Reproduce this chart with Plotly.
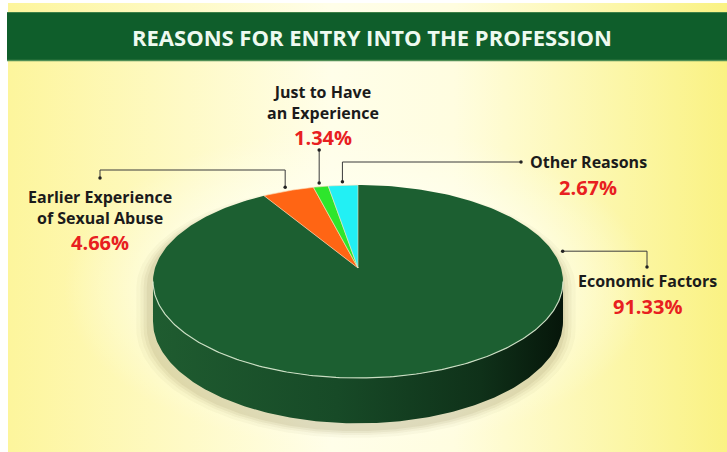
import numpy as np
import plotly.graph_objects as go

# ---- data -----------------------------------------------------------------
categories = ["Economic Factors", "Earlier Experience of Sexual Abuse",
              "Just to Have an Experience", "Other Reasons"]
label_lines = ["Economic Factors", "Earlier Experience<br>of Sexual Abuse",
               "Just to Have<br>an Experience", "Other Reasons"]
shares = [91.33, 4.66, 1.34, 2.67]
slice_colors = ["#1c5f31", "#ff6514", "#2ee62c", "#22f0f4"]

title_text = "REASONS FOR ENTRY INTO THE PROFESSION"

# ---- canvas / pie geometry --------------------------------------------------
W, H = 727, 452
CX, CY = 358, 268          # apex of the top face
RX, RY = 203, 94.6         # horizontal / vertical radii of the tilted disc
P = 0.14                   # perspective strength
DEPTH = 39                 # thickness of the disc

DARK = "#1b1b1b"
RED = "#e8201f"
FONT = "Open Sans"


def project(phi, drop=0.0, scale=1.0):
    """Map an angle (clockwise from 12 o'clock) on the disc to screen coords."""
    u = scale * np.sin(phi)
    v = scale * np.cos(phi)
    s = 1 + P * v
    return CX + RX * u / s, CY - RY * v / s + drop / s


fig = go.Figure()

# background: white page with a yellow gradient panel
fig.add_trace(go.Scatter(
    x=[8, W, W, 8, 8], y=[3, 3, H, H, 3], mode="lines", fill="toself",
    line=dict(width=0), hoverinfo="skip", showlegend=False,
    fillgradient=dict(type="horizontal",
                      colorscale=[[0, "#fdf59c"], [0.45, "#fffee9"],
                                  [0.62, "#fffde0"], [1, "#faf283"]])))

# soft light glow around the disc
t = np.linspace(0, 2 * np.pi, 240)
gx = CX + 1.45 * RX * np.sin(t)
gy = CY + 20 + 1.7 * RY * np.cos(t)
fig.add_trace(go.Scatter(
    x=gx, y=gy, mode="lines", fill="toself", line=dict(width=0),
    hoverinfo="skip", showlegend=False,
    fillgradient=dict(type="radial",
                      colorscale=[[0, "rgba(255,255,246,0.95)"],
                                  [0.6, "rgba(255,255,240,0.75)"],
                                  [1, "rgba(255,255,235,0)"]])))

# silhouette of the disc (top face + front side)
phi_l = np.arccos(-P)
phi_side = np.linspace(phi_l, 2 * np.pi - phi_l, 200)
phi_back = np.linspace(2 * np.pi - phi_l, 2 * np.pi + phi_l, 120)


def silhouette(scale=1.0, dx=0.0, dy=0.0):
    x1, y1 = project(phi_side, DEPTH, scale)
    x2, y2 = project(phi_back, 0, scale)
    return np.concatenate([x1, x2, x1[:1]]) + dx, np.concatenate([y1, y2, y1[:1]]) + dy


# soft drop shadow
for k, a in [(1.07, 0.04), (1.05, 0.05), (1.035, 0.07), (1.02, 0.08)]:
    sx, sy = silhouette(k, -2, 5)
    fig.add_trace(go.Scatter(x=sx, y=sy, mode="lines", fill="toself",
                             fillcolor=f"rgba(110,95,40,{a})", line=dict(width=0),
                             hoverinfo="skip", showlegend=False))

# side wall of the disc
xt, yt = project(phi_side)
xb, yb = project(phi_side[::-1], DEPTH)
fig.add_trace(go.Scatter(
    x=np.concatenate([xt, xb, xt[:1]]), y=np.concatenate([yt, yb, yt[:1]]),
    mode="lines", fill="toself", line=dict(width=0), hoverinfo="skip",
    showlegend=False,
    fillgradient=dict(type="horizontal",
                      colorscale=[[0, "#1f5c30"], [0.45, "#174a27"],
                                  [0.8, "#0f3119"], [1, "#06160a"]])))

# top-face slices, clockwise from 12 o'clock
fracs = np.array(shares) / sum(shares)
bounds = np.concatenate([[0], np.cumsum(fracs)]) * 2 * np.pi
mids = (bounds[:-1] + bounds[1:]) / 2
for i, name in enumerate(categories):
    n = max(int(300 * fracs[i]), 8)
    ph = np.linspace(bounds[i], bounds[i + 1], n)
    ax_, ay_ = project(ph)
    lw = 0 if i == 0 else 0.8
    fig.add_trace(go.Scatter(
        x=np.concatenate([[CX], ax_, [CX]]), y=np.concatenate([[CY], ay_, [CY]]),
        mode="lines", fill="toself", fillcolor=slice_colors[i],
        line=dict(width=lw, color="rgba(255,225,190,0.75)"),
        name=name, hoverinfo="name", showlegend=False))

# light rim along the front edge of the top face
rx_, ry_ = project(phi_side)
fig.add_trace(go.Scatter(x=rx_, y=ry_, mode="lines",
                         line=dict(width=1.2, color="rgba(225,240,215,0.85)"),
                         hoverinfo="skip", showlegend=False))

# ---- leader lines -----------------------------------------------------------
leader_color = "#3a3a3a"
ex, ey = project(np.radians(80), 0, 1.05)
ox, oy = project(mids[1], 0, 1.05)
jx, jy = project(mids[2], 0, 1.05)
qx, qy = project(mids[3], 0, 1.05)

leaders = [
    ([ex, 647, 647], [ey, ey, 267]),
    ([ox, ox, 100, 100], [oy, 170, 170, 178]),
    ([jx, jx], [jy, 150]),
    ([qx, qx, 521], [qy, 162, 162]),
]
for lx, ly in leaders:
    fig.add_trace(go.Scatter(x=lx, y=ly, mode="lines", hoverinfo="skip",
                             line=dict(width=1, color=leader_color),
                             showlegend=False))
    fig.add_trace(go.Scatter(x=[lx[0], lx[-1]], y=[ly[0], ly[-1]], mode="markers",
                             marker=dict(size=3.5, color="#222"),
                             hoverinfo="skip", showlegend=False))

# ---- labels: name (dark) and share (red) ------------------------------------
# (x, name centre y, share centre y)
label_pos = [(647, 281, 306), (100, 207, 242), (323, 102, 137), (588, 162, 187)]
annotations = []
for i, (lx, ly, py) in enumerate(label_pos):
    annotations.append(dict(x=lx, y=ly, xref="x", yref="y", showarrow=False,
                            text=f"<b>{label_lines[i]}</b>", align="center",
                            font=dict(family=FONT, size=16, color=DARK)))
    annotations.append(dict(x=lx, y=py, xref="x", yref="y", showarrow=False,
                            text=f"<b>{shares[i]:.2f}%</b>",
                            font=dict(family=FONT, size=20, color=RED)))

annotations.append(dict(x=372, y=37, xref="x", yref="y", showarrow=False,
                        text=f"<b>{title_text}</b>",
                        font=dict(family=FONT, size=22, color="#eefaf0")))

shapes = [
    dict(type="rect", xref="x", yref="y", x0=7, x1=W, y0=12, y1=61,
         fillcolor="#0f5e2b", line=dict(width=0), layer="above"),
    dict(type="line", xref="x", yref="y", x0=7, x1=W, y0=60.5, y1=60.5,
         line=dict(width=1.5, color="#4f8f55"), layer="above"),
    dict(type="line", xref="x", yref="y", x0=7, x1=W, y0=12.5, y1=12.5,
         line=dict(width=1, color="#3f8048"), layer="above"),
]

fig.update_layout(
    width=W, height=H, autosize=False,
    margin=dict(l=0, r=0, t=0, b=0, pad=0),
    paper_bgcolor="white", plot_bgcolor="rgba(0,0,0,0)",
    xaxis=dict(range=[0, W], visible=False, fixedrange=True),
    yaxis=dict(range=[H, 0], visible=False, fixedrange=True),
    annotations=annotations, shapes=shapes, showlegend=False,
)

fig.write_html("out.html")
